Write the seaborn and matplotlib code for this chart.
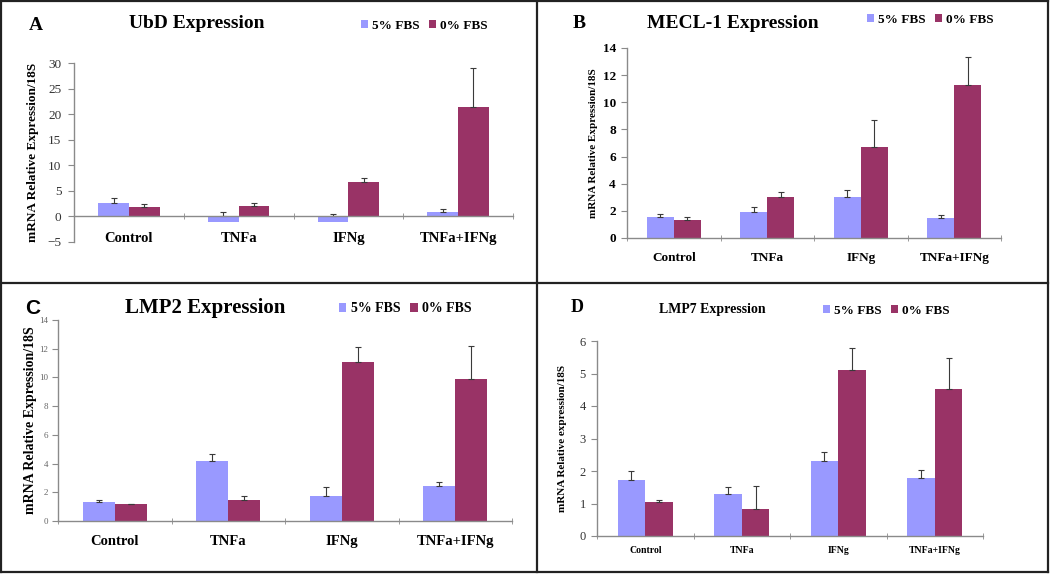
import matplotlib
matplotlib.use("Agg")
import matplotlib.pyplot as plt
import pandas as pd
import seaborn as sns
from matplotlib.lines import Line2D

groups = ["Control", "TNFa", "IFNg", "TNFa+IFNg"]
conditions = ["5% FBS", "0% FBS"]
colors = {"5% FBS": "#9999FF", "0% FBS": "#993366"}

# UbD
ubd_5 = [2.7, -1.0, -1.1, 0.9]
ubd_0 = [1.8, 2.0, 6.8, 21.3]
ubd_5_err = [0.9, 0.8, 0.4, 0.6]
ubd_0_err = [0.6, 0.7, 0.7, 7.7]

# MECL-1
mecl_5 = [1.55, 1.95, 3.05, 1.45]
mecl_0 = [1.35, 3.0, 6.7, 11.3]
mecl_5_err = [0.2, 0.3, 0.45, 0.25]
mecl_0_err = [0.2, 0.4, 2.0, 2.05]

# LMP2
lmp2_5 = [1.3, 4.15, 1.75, 2.45]
lmp2_0 = [1.15, 1.45, 11.1, 9.9]
lmp2_5_err = [0.15, 0.5, 0.65, 0.25]
lmp2_0_err = [0.05, 0.3, 1.0, 2.3]

# LMP7
lmp7_5 = [1.72, 1.28, 2.3, 1.8]
lmp7_0 = [1.05, 0.82, 5.1, 4.52]
lmp7_5_err = [0.28, 0.22, 0.28, 0.23]
lmp7_0_err = [0.05, 0.73, 0.68, 0.96]

W, H = 1050, 584
SERIF = "Liberation Serif"
AXIS_GRAY = "#8a8a8a"

fig = plt.figure(figsize=(W / 100, H / 100), dpi=100)
fig.patch.set_facecolor("white")


def fx(px):
    return px / W


def fy(py):
    return 1 - py / H


def panel(box, v5, v0, e5, e0, ylim, yticks, letter, title, ylabel, st):
    l, t, r, b = box
    ax = fig.add_axes([fx(l), fy(b), fx(r - l), (b - t) / H])
    df = pd.DataFrame({
        "group": groups * 2,
        "cond": [conditions[0]] * 4 + [conditions[1]] * 4,
        "value": list(v5) + list(v0),
    })
    sns.barplot(data=df, x="group", y="value", hue="cond", order=groups,
                hue_order=conditions, palette=colors, saturation=1,
                width=st["bw"], errorbar=None, legend=False, ax=ax)
    # error bars only in the plus direction, like the original
    for cont, err in zip(ax.containers, [e5, e0]):
        xs = [p.get_x() + p.get_width() / 2 for p in cont.patches]
        ys = [p.get_y() + p.get_height() if p.get_height() >= 0 else p.get_y()
              for p in cont.patches]
        ax.errorbar(xs, ys, yerr=[[0] * len(err), err], fmt="none",
                    ecolor="#3a3a3a", elinewidth=0.8, capsize=2.5, capthick=0.8)

    ax.set_xlim(-0.5, 3.5)
    ax.set_ylim(*ylim)
    ax.set_yticks(yticks)
    ax.set_xlabel("")
    ax.set_ylabel(ylabel, fontfamily=SERIF, fontweight="bold",
                  fontsize=st["ylab_fs"])
    ax.yaxis.set_label_coords((st["ylab_x"] - l) / (r - l), 0.5)

    for s in ["top", "right"]:
        ax.spines[s].set_visible(False)
    for s in ["left", "bottom"]:
        ax.spines[s].set_color(AXIS_GRAY)
        ax.spines[s].set_linewidth(1)
    ax.spines["bottom"].set_position(("data", 0))

    ax.set_xticks(range(4))
    ax.set_xticks([-0.5, 0.5, 1.5, 2.5, 3.5], minor=True)
    ax.tick_params(axis="x", which="major", length=0, pad=st["xpad"])
    ax.tick_params(axis="x", which="minor", length=4, direction="inout",
                   color=AXIS_GRAY)
    ax.set_xticklabels(groups, fontfamily=SERIF, fontweight="bold",
                       fontsize=st["xfs"])
    ax.tick_params(axis="y", length=4, color=AXIS_GRAY, pad=st["ypad"],
                   labelsize=st["yfs"], labelcolor=st["ycol"])
    for lab in ax.get_yticklabels():
        lab.set_fontfamily(SERIF)
        lab.set_fontweight(st["yweight"])

    lx, ly = st["letter_xy"]
    fig.text(fx(lx), fy(ly), letter, ha="center", va="center",
             fontfamily=st["letter_font"], fontweight="bold",
             fontsize=st["letter_fs"])
    tx, ty = st["title_xy"]
    fig.text(fx(tx), fy(ty), title, ha="center", va="center",
             fontfamily=SERIF, fontweight="bold", fontsize=st["title_fs"])
    gx, gy = st["leg_xy"]
    ax.legend(ax.containers, conditions, loc="center",
              bbox_to_anchor=(fx(gx), fy(gy)), bbox_transform=fig.transFigure,
              ncol=2, frameon=False, handlelength=0.55, handleheight=0.55,
              handletextpad=0.3, columnspacing=0.7,
              prop={"family": SERIF, "weight": "bold", "size": st["leg_fs"]})
    return ax


panel((74, 63, 513, 242), ubd_5, ubd_0, ubd_5_err, ubd_0_err, (-5, 30),
      range(-5, 31, 5), "A", "UbD Expression", "mRNA Relative Expression/18S",
      dict(bw=0.56, ylab_fs=9.5, ylab_x=39, xpad=11, xfs=10.5, ypad=5,
           yfs=9.5, ycol="#333333", yweight="normal", letter_xy=(36, 25),
           letter_font=SERIF, letter_fs=14, title_xy=(197, 23), title_fs=14,
           leg_xy=(424, 26), leg_fs=9.5))

panel((627, 48, 1001, 238), mecl_5, mecl_0, mecl_5_err, mecl_0_err, (0, 14),
      range(0, 15, 2), "B", "MECL-1 Expression", "mRNA Relative Expression/18S",
      dict(bw=0.58, ylab_fs=8, ylab_x=598, xpad=10, xfs=9.5, ypad=4,
           yfs=9.5, ycol="black", yweight="bold", letter_xy=(579, 24),
           letter_font=SERIF, letter_fs=14, title_xy=(733, 24), title_fs=14,
           leg_xy=(930, 20), leg_fs=9.5))

panel((58, 320, 512, 521), lmp2_5, lmp2_0, lmp2_5_err, lmp2_0_err, (0, 14),
      range(0, 15, 2), "C", "LMP2 Expression", "mRNA Relative Expression/18S",
      dict(bw=0.56, ylab_fs=10, ylab_x=37, xpad=10, xfs=10.5, ypad=3,
           yfs=6.5, ycol="#666666", yweight="normal", letter_xy=(33, 308),
           letter_font="Liberation Sans", letter_fs=15, title_xy=(205, 308),
           title_fs=15, leg_xy=(405, 309), leg_fs=10))

panel((597, 341, 983, 536), lmp7_5, lmp7_0, lmp7_5_err, lmp7_0_err, (0, 6),
      range(0, 7), "D", "LMP7 Expression", "mRNA Relative expression/18S",
      dict(bw=0.57, ylab_fs=8, ylab_x=567, xpad=7, xfs=7, ypad=4,
           yfs=9, ycol="#333333", yweight="normal", letter_xy=(577, 307),
           letter_font=SERIF, letter_fs=13, title_xy=(712, 310), title_fs=10,
           leg_xy=(886, 311), leg_fs=9.5))

# panel frames
frame = [((1, 1), (1, 572)), ((1048, 1048), (1, 572)), ((1, 1048), (1, 1)),
         ((1, 1048), (572, 572)), ((537, 537), (1, 572)), ((1, 1048), (283, 283))]
for xs, ys in frame:
    fig.add_artist(Line2D([fx(x) for x in xs], [fy(y) for y in ys],
                          color="#222222", linewidth=1.6))

fig.savefig("out.png", dpi=100, facecolor="white")
